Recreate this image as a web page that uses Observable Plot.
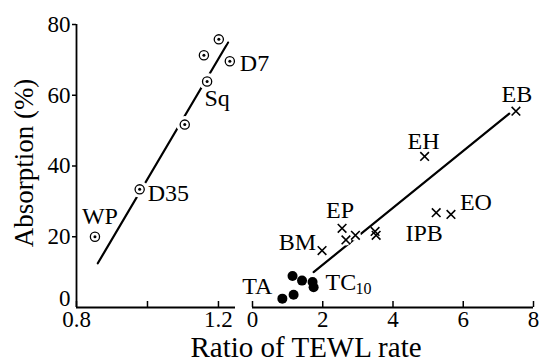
<!DOCTYPE html>
<html><head><meta charset="utf-8">
<script src="https://cdn.jsdelivr.net/npm/d3@7"></script>
<script src="https://cdn.jsdelivr.net/npm/@observablehq/plot@0.6"></script>
<style>
body{margin:0;background:#fff;}
#chart{position:relative;width:540px;height:363px;font-family:"Liberation Serif",serif;}
#chart svg{position:absolute;left:0;top:0;font-family:"Liberation Serif",serif;}
#chart svg text{font-family:"Liberation Serif",serif;}
#chart g[aria-label="x-title"] text{letter-spacing:0.8px;}
</style></head><body><div id="chart"></div>
<script>
// ---- Data ----
// Left panel (ratio 0.8–1.25): circled points
const leftNames = ["WP", "D35", "", "Sq", "", "", "D7"];
const leftX = [0.852, 0.978, 1.105, 1.168, 1.159, 1.201, 1.232];
const leftY = [20, 33.4, 51.7, 63.9, 71.3, 75.8, 69.6];
const leftFitX = [0.86, 1.227];
const leftFitY = [12.5, 74.9];
// Right panel (ratio 0–8): crosses
const crossNames = ["BM", "EP", "", "", "", "", "EH", "IPB", "EO", "EB"];
const crossX = [1.98, 2.55, 2.66, 2.93, 3.49, 3.52, 4.9, 5.23, 5.65, 7.5];
const crossY = [16.1, 22.4, 19.1, 20.4, 21.5, 20.4, 42.7, 26.8, 26.3, 55.5];
// Right panel: filled dots
const dotNames = ["TA", "", "", "", "", "TC"];
const dotX = [0.85, 1.17, 1.14, 1.41, 1.71, 1.74];
const dotY = [2.5, 3.6, 8.9, 7.6, 7.2, 5.7];
const rightFitX = [1.74, 7.31];
const rightFitY = [10.0, 54.8];
// Axes
const yTicks = [20, 40, 60, 80];
const yZeroTick = [0];
const leftXTicks = [0.8, 1.0, 1.2];
const leftXTickLabels = ["0.8", "", "1.2"];
const rightXTicks = [0, 2, 4, 6, 8];
const rightXTickLabels = ["0", "2", "4", "6", "8"];
const yLabel = "Absorption (%)";
const xLabel = "Ratio of TEWL rate";

// ---- Layout / style ----
const FONT = "Liberation Serif";
const W = 540, H = 363;
const common = {width: W, height: H, marginTop: 24, marginBottom: 56,
  style: {background: "transparent", fontFamily: FONT, overflow: "visible", color: "black"}};
const labelPlace = {
  WP: {dx: 5, dy: -20, textAnchor: "middle"},
  D35: {dx: 8, dy: 4, textAnchor: "start"},
  Sq: {dx: 10, dy: 17, textAnchor: "middle"},
  D7: {dx: 10, dy: 2, textAnchor: "start"},
  BM: {dx: -6, dy: -8, textAnchor: "end"},
  EP: {dx: -2, dy: -18, textAnchor: "middle"},
  EH: {dx: -1, dy: -15, textAnchor: "middle"},
  IPB: {dx: -12, dy: 21, textAnchor: "middle"},
  EO: {dx: 9, dy: -12, textAnchor: "start"},
  EB: {dx: 1, dy: -17, textAnchor: "middle"},
  TA: {dx: -10, dy: -12, textAnchor: "end"},
  TC: {dx: 12, dy: -5, textAnchor: "start"}
};
function pointLabels(names, xs, ys) {
  return names.map((n, i) => n ? Plot.text([i], {x: j => xs[j], y: j => ys[j], text: () => n,
    fontSize: 24, fontFamily: FONT, lineAnchor: "middle", fill: "black", ...labelPlace[n]}) : null).filter(Boolean);
}
const idx = a => a.map((_, i) => i);
const axisFont = {fontSize: 23, fontFamily: FONT, label: null, strokeWidth: 1.5};

const left = Plot.plot({
  ...common, marginLeft: 76, marginRight: W - 235,
  x: {domain: [0.8, 1.248]},
  y: {domain: [0, 80]},
  marks: [
    Plot.ruleX([0.8], {stroke: "black", strokeWidth: 1.8}),
    Plot.ruleY([0], {stroke: "black", strokeWidth: 1.8}),
    Plot.axisY({ticks: yTicks, tickSize: 4, tickPadding: 2, tickFormat: d => String(d), ...axisFont}),
    Plot.axisY({ticks: yZeroTick, tickSize: 0, tickPadding: 6, dy: -9, tickFormat: d => String(d), ...axisFont}),
    Plot.axisX({ticks: leftXTicks, tickSize: -6, tickPadding: 9, ...axisFont,
      tickFormat: d => leftXTickLabels[leftXTicks.indexOf(d)]}),
    Plot.line(idx(leftFitX), {x: i => leftFitX[i], y: i => leftFitY[i], stroke: "black", strokeWidth: 2.2}),
    Plot.dot(idx(leftX), {x: i => leftX[i], y: i => leftY[i], r: 8.5, fill: "white"}),
    Plot.dot(idx(leftX), {x: i => leftX[i], y: i => leftY[i], r: 4.6, fill: "white", stroke: "black", strokeWidth: 1.3}),
    Plot.dot(idx(leftX), {x: i => leftX[i], y: i => leftY[i], r: 1.5, fill: "black"}),
    ...pointLabels(leftNames, leftX, leftY),
    Plot.text([yLabel], {frameAnchor: "left", text: d => d, rotate: -90, dx: -52, dy: -3, fontSize: 27,
      fontFamily: FONT, textAnchor: "middle", lineAnchor: "middle", fill: "black"})
  ]
});

const right = Plot.plot({
  ...common, marginLeft: 252, marginRight: W - 533,
  x: {domain: [0, 8]},
  y: {domain: [0, 80], axis: null},
  marks: [
    Plot.ruleY([0], {stroke: "black", strokeWidth: 1.8}),
    Plot.axisX({ticks: rightXTicks, tickSize: -6, tickPadding: 9, ...axisFont,
      tickFormat: d => rightXTickLabels[rightXTicks.indexOf(d)]}),
    Plot.line(idx(rightFitX), {x: i => rightFitX[i], y: i => rightFitY[i], stroke: "black", strokeWidth: 2.2}),
    Plot.dot(idx(crossX), {x: i => crossX[i], y: i => crossY[i], r: 5.5, fill: "white"}),
    Plot.dot(idx(crossX), {x: i => crossX[i], y: i => crossY[i], symbol: "times", r: 4, stroke: "black", strokeWidth: 1.6}),
    Plot.dot(idx(dotX), {x: i => dotX[i], y: i => dotY[i], r: 5, fill: "black"}),
    ...pointLabels(crossNames, crossX, crossY),
    ...pointLabels(dotNames, dotX, dotY),
    Plot.text([5], {x: i => dotX[i], y: i => dotY[i], text: () => "10", fontSize: 16, fontFamily: FONT,
      dx: 42, dy: 2, textAnchor: "start", lineAnchor: "middle", fill: "black"}),
    Plot.text([xLabel], {frameAnchor: "bottom", text: d => d, dx: -87, dy: 40, fontSize: 29, fontFamily: FONT,
      textAnchor: "middle", lineAnchor: "middle", fill: "black", ariaLabel: "x-title"})
  ]
});

document.getElementById("chart").append(left, right);
</script></body></html>
